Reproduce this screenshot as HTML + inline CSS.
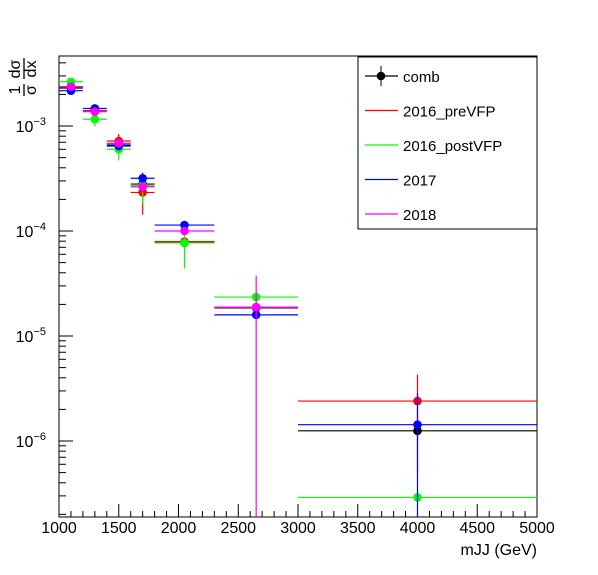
<!DOCTYPE html>
<html><head><meta charset="utf-8"><style>
body{margin:0;background:#fff}
svg{display:block;font-family:"Liberation Sans",sans-serif}
</style></head><body>
<svg id="c" width="598" height="575"></svg>
<script>
const binLo=[1000,1200,1400,1600,1800,2300,3000];
const binHi=[1200,1400,1600,1800,2300,3000,5000];
const binCenter=[1100,1300,1500,1700,2050,2650,4000];
const seriesNames=["comb","2016_preVFP","2016_postVFP","2017","2018"];
const seriesColors=["#000000","#ff0000","#00ff00","#0000ff","#ff00ff"];
const combVals=[2.3e-3,1.4e-3,6.6e-4,2.8e-4,7.9e-5,1.85e-5,1.25e-6];
const preVals=[2.37e-3,1.4e-3,7.2e-4,2.33e-4,7.9e-5,1.88e-5,2.4e-6];
const postVals=[2.64e-3,1.16e-3,6.0e-4,2.7e-4,7.7e-5,2.35e-5,2.9e-7];
const v17Vals=[2.17e-3,1.47e-3,6.45e-4,3.18e-4,1.14e-4,1.59e-5,1.43e-6];
const v18Vals=[2.37e-3,1.37e-3,6.84e-4,2.64e-4,1.0e-4,1.88e-5,null];
const combErr=[0.05e-3,0.04e-3,0.3e-4,0.2e-4,0.3e-5,0.1e-5,0.05e-6];
const preErr=[0.1e-3,0.1e-3,1.2e-4,0.9e-4,0.4e-5,0.2e-5,1.9e-6];
const postErr=[0.15e-3,0.17e-3,1.3e-4,0.9e-4,3.3e-5,0.3e-5,0.05e-7];
const v17Err=[0.1e-3,0.08e-3,0.6e-4,0.4e-4,0.1e-4,0.1e-5,1.43e-6];
const v18Err=[0.1e-3,0.08e-3,0.6e-4,0.3e-4,0.06e-4,1.88e-5,0];
const allVals=[combVals,preVals,postVals,v17Vals,v18Vals];
const allErr=[combErr,preErr,postErr,v17Err,v18Err];
const xTicks=[1000,1500,2000,2500,3000,3500,4000,4500,5000];
const yDecades=[-6,-5,-4,-3];

const L=59,R=537,T=56,B=517;
const yMinLog=-6.724,yMaxLog=-2.333;
const X=v=>L+(v-1000)/4000*(R-L);
const Y=v=>{let l=v>0?Math.log10(v):yMinLog;l=Math.max(yMinLog,Math.min(yMaxLog,l));return B-(l-yMinLog)/(yMaxLog-yMinLog)*(B-T);};
const svg=document.getElementById('c');
const NS="http://www.w3.org/2000/svg";
function mk(tag,attrs,parent){const e=document.createElementNS(NS,tag);for(const k in attrs)e.setAttribute(k,attrs[k]);(parent||svg).appendChild(e);return e;}

const frame=mk('rect',{x:L,y:T,width:R-L,height:B-T,fill:'none',stroke:'#000','stroke-width':1});



const xg=mk('g',{});


for(let v=1000;v<=5000;v+=100){const maj=v%500===0;mk('line',{x1:X(v),x2:X(v),y1:B,y2:B-(maj?13:6),stroke:'#000'},xg);}
xTicks.forEach(v=>{const t=mk('text',{x:X(v),y:533,'font-size':16,'text-anchor':'middle'},xg);t.textContent=v;

});
const xt=mk('text',{x:R,y:555,'font-size':16,'text-anchor':'end'});xt.textContent='mJJ (GeV)';



const yg=mk('g',{});


for(let d=-7;d<=-3;d++){for(let m=1;m<=9;m++){const v=m*Math.pow(10,d);const l=Math.log10(v);if(l<yMinLog||l>yMaxLog)continue;mk('line',{x1:L,x2:L+(m===1?14:7),y1:Y(v),y2:Y(v),stroke:'#000'},yg);}}
yDecades.forEach(d=>{const t=mk('text',{x:46,y:Y(Math.pow(10,d))+6,'font-size':16,'text-anchor':'end'},yg);t.innerHTML='10<tspan dy="-7" font-size="11">−'+(-d)+'</tspan>';

});
const yt=mk('g',{transform:'translate(23,96) rotate(-90)'});


let a=mk('text',{x:6,y:-3,'font-size':16,'text-anchor':'middle'},yt);a.textContent='1';
a=mk('text',{x:6,y:13,'font-size':16,'text-anchor':'middle'},yt);a.textContent='σ';
mk('line',{x1:0,x2:12,y1:1,y2:1,stroke:'#000','stroke-width':1.3},yt);
a=mk('text',{x:27,y:-3,'font-size':16,'text-anchor':'middle'},yt);a.textContent='dσ';
a=mk('text',{x:27,y:13,'font-size':16,'text-anchor':'middle'},yt);a.textContent='dx';
mk('line',{x1:17,x2:38,y1:1,y2:1,stroke:'#000','stroke-width':1.3},yt);

allVals.forEach((vals,s)=>{
 const g=mk('g',{});
 
 
 const c=seriesColors[s];
 vals.forEach((v,i)=>{
  if(v===null)return;
  const e=allErr[s][i];
  const cx=X(binCenter[i]),cy=Y(v);
  mk('line',{x1:X(binLo[i]),x2:X(binHi[i]),y1:cy,y2:cy,stroke:c,'stroke-width':1.2},g);
  mk('line',{x1:cx,x2:cx,y1:Y(v+e),y2:Y(v-e),stroke:c,'stroke-width':1.2},g);
  const p=mk('circle',{cx:cx,cy:cy,r:4.3,fill:c},g);
  
  
 });
});
const lg=mk('g',{});


mk('rect',{x:358,y:57,width:179,height:172,fill:'#fff',stroke:'#000'},lg);
seriesNames.forEach((n,i)=>{
 const y=76+i*34.5,c=seriesColors[i];
 const e=mk('g',{},lg);
 
 
 mk('line',{x1:365,x2:398,y1:y,y2:y,stroke:c,'stroke-width':1.2},e);
 if(i===0){mk('line',{x1:381,x2:381,y1:y-10,y2:y+10,stroke:c},e);mk('circle',{cx:381,cy:y,r:4.3,fill:c},e);}
 const t=mk('text',{x:403,y:y+6,'font-size':15},e);t.textContent=n;
});
</script>
</body></html>
